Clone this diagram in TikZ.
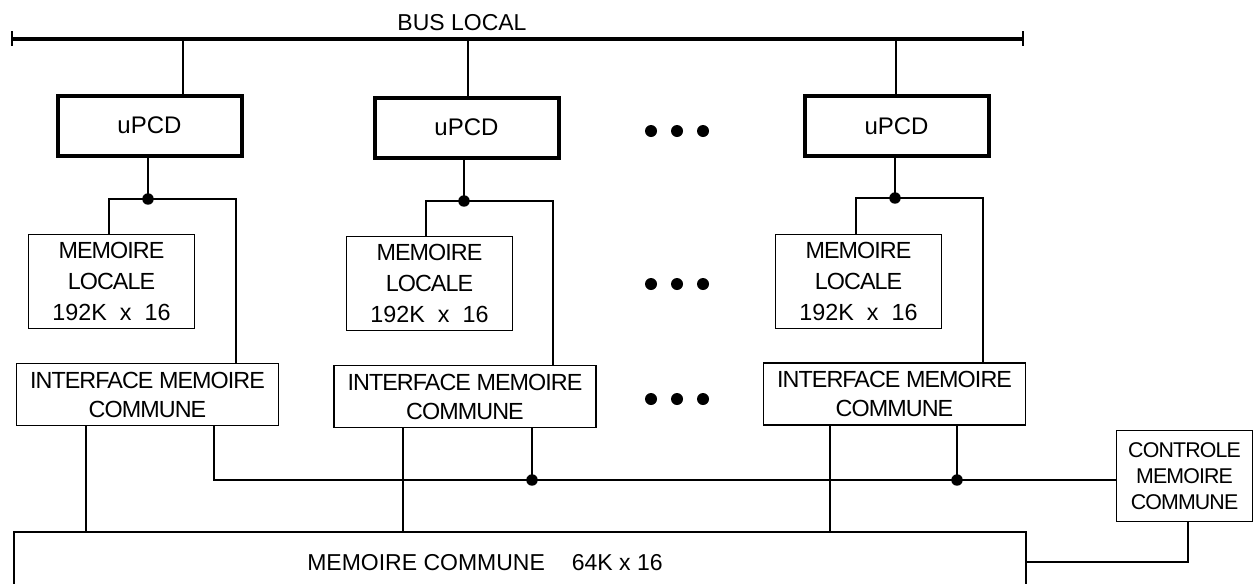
\documentclass[tikz,border=0pt]{standalone}
\usepackage{fontspec}
\setmainfont{Liberation Sans}
\newfontfamily\condfont[LetterSpace=-4]{Liberation Sans}
\usetikzlibrary{calc}
\begin{document}
\begin{tikzpicture}[x=0.75pt,y=-0.75pt,
  wire/.style={line width=1.1pt},
  wirebold/.style={line width=1.6pt},
  busline/.style={line width=3pt},
  cpu/.style={draw, line width=3pt, inner sep=0pt, minimum width=184*0.75pt, minimum height=60*0.75pt, font=\fontsize{18}{18}\selectfont},
  locmem/.style={draw, line width=1.1pt, inner sep=0pt, minimum width=166*0.75pt, minimum height=94*0.75pt, align=center, font=\condfont\fontsize{17.5}{23.25}\selectfont},
  iface/.style={draw, line width=1.1pt, inner sep=0pt, minimum width=262*0.75pt, minimum height=62*0.75pt, align=center, font=\condfont\fontsize{17.5}{21.75}\selectfont},
  ctlbox/.style={draw, line width=1.1pt, inner sep=0pt, minimum width=136*0.75pt, minimum height=91*0.75pt, align=center, font=\condfont\fontsize{16}{19.5}\selectfont},
  label/.style={inner sep=0pt, font=\fontsize{17.25}{17.25}\selectfont},
  jdot/.style={fill=black},
]
\useasboundingbox (0,0) rectangle (1255,583);
\clip (0,0) rectangle (1255,583);

% bus local
\coordinate (busL) at (12,39);
\coordinate (busR) at (1023,39);
\draw[busline] (busL) -- (busR);
\draw[wire] ($(busL)+(0,-8)$) -- ($(busL)+(0,7)$);
\draw[wire] ($(busR)+(0,-8)$) -- ($(busR)+(0,7)$);
\node[label] (buslabel) at (462,23) {BUS LOCAL};

% processors
\node[cpu] (u1) at (149.5,125.5) {uPCD};
\node[cpu] (u2) at (466.5,127.5) {uPCD};
\node[cpu] (u3) at (896.5,126) {uPCD};

\coordinate (t1) at (183,39);
\coordinate (t2) at (468,39);
\coordinate (t3) at (896,39);
\draw[wire] (t1) -- (u1.north -| t1);
\draw[wire] (t2) -- (u2.north -| t2);
\draw[wire] (t3) -- (u3.north -| t3);

% local memories
\node[locmem] (ml1) at (111.5,281.5) {MEMOIRE\\LOCALE\\{\rmfamily 192K\ \ x\ \ 16}};
\node[locmem] (ml2) at (429.5,283.5) {MEMOIRE\\LOCALE\\{\rmfamily 192K\ \ x\ \ 16}};
\node[locmem] (ml3) at (858.5,281.5) {MEMOIRE\\LOCALE\\{\rmfamily 192K\ \ x\ \ 16}};

% interfaces
\node[iface] (if1) at (147.5,394.5) {INTERFACE MEMOIRE\\COMMUNE};
\node[iface] (if2) at (465,396.5) {INTERFACE MEMOIRE\\COMMUNE};
\node[iface] (if3) at (894.5,394) {INTERFACE MEMOIRE\\COMMUNE};

% controle
\node[ctlbox] (ctl) at (1184.5,476) {CONTROLE\\MEMOIRE\\COMMUNE};

% memoire commune (open at the bottom, beyond the frame)
\node[draw, line width=1.1pt, inner sep=0pt, minimum width=1012*0.75pt, minimum height=68*0.75pt] (mc) at (520,566) {};
\node[label] (mctext) at (485,563) {MEMOIRE COMMUNE\hspace{20.25pt}64K x 16};

% junctions under processors
\coordinate (j1) at (148,199); \coordinate (l1) at (109,199); \coordinate (r1) at (236,199);
\coordinate (j2) at (464,201); \coordinate (l2) at (426,201); \coordinate (r2) at (553,201);
\coordinate (j3) at (895,198); \coordinate (l3) at (856,198); \coordinate (r3) at (983,198);
\draw[wire] (u1.south -| j1) -- (j1);
\draw[wire] (u2.south -| j2) -- (j2);
\draw[wire] (u3.south -| j3) -- (j3);
\draw[wire] (ml1.north -| l1) -- (l1) -- (r1) -- (if1.north -| r1);
\draw[wire] (ml2.north -| l2) -- (l2) -- (r2) -- (if2.north -| r2);
\draw[wire] (ml3.north -| l3) -- (l3) -- (r3) -- (if3.north -| r3);
\fill[jdot] (j1) circle (4.3pt);
\fill[jdot] (j2) circle (4.3pt);
\fill[jdot] (j3) circle (4.3pt);

% interfaces to common memory
\coordinate (m1) at (86,532);
\coordinate (m2) at (403,532);
\coordinate (m3) at (830,532);
\draw[wire] (if1.south -| m1) -- (m1);
\draw[wire] (if2.south -| m2) -- (m2);
\draw[wire] (if3.south -| m3) -- (m3);

% control bus
\coordinate (b1) at (214,480);
\coordinate (b2) at (532,480);
\coordinate (b3) at (957,480);
\draw[wirebold] (if1.south -| b1) -- (b1) -- (ctl.west |- b1);
\draw[wire] (if2.south -| b2) -- (b2);
\draw[wire] (if3.south -| b3) -- (b3);
\fill[jdot] (b2) circle (4.3pt);
\fill[jdot] (b3) circle (4.3pt);

% controle to common memory
\coordinate (c1) at (1188,562);
\draw[wirebold] (ctl.south -| c1) -- (c1) -- (mc.east |- c1);

% ellipsis dots
\foreach \yy in {131,284,399}{
  \foreach \xx in {651,677,703}{
    \fill (\xx,\yy) circle (4.5pt);
  }
}
\end{tikzpicture}
\end{document}
